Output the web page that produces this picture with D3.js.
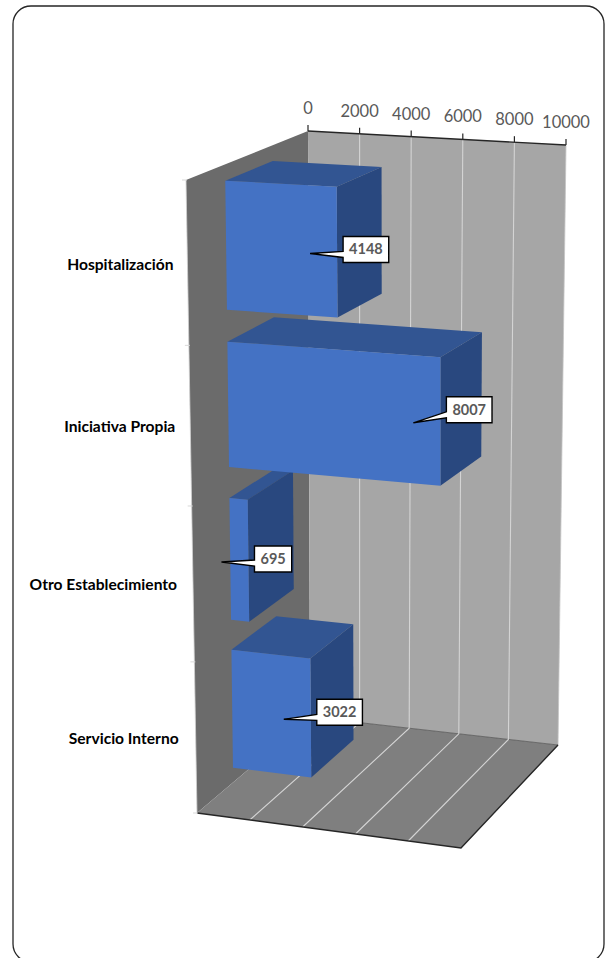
<!DOCTYPE html>
<html>
<head>
<meta charset="utf-8">
<script src="https://cdn.jsdelivr.net/npm/d3@7"></script>
<style>
  body { margin: 0; background: #fff; overflow: hidden; }
  text { font-family: Lato, "Open Sans", sans-serif; }
</style>
</head>
<body>
<div id="chart"></div>
<script>
const categories = ["Hospitalización", "Iniciativa Propia", "Otro Establecimiento", "Servicio Interno"];
const values = [4148, 8007, 695, 3022];
const valueTicks = [0, 2000, 4000, 6000, 8000, 10000];

const width = 616;
const height = 958;

// the eight corners of the chart box as they land on the page
const corners = {
    frontTopLeft: [186, 180], frontTopRight: [460, 194],
    frontBottomLeft: [197, 813], frontBottomRight: [461, 848],
    backTopLeft: [308, 131], backTopRight: [566, 145],
    backBottomLeft: [310, 717], backBottomRight: [558, 745]
};

const lerp = (a, b, t) => [a[0] + (b[0] - a[0]) * t, a[1] + (b[1] - a[1]) * t];

/**
 * project
 *
 * Purpose: Maps a point inside the unit box to page coordinates.
 *
 * @param {number} u - position along the value axis, 0 to 1
 * @param {number} v - position along the category axis, 0 (top) to 1 (bottom)
 * @param {number} w - depth, 0 (front) to 1 (back)
 */
function project(u, v, w) {
    // the top of the box is a bit closer to the camera, so it stretches
    const s = v + 0.06 * v * (1 - v);
    const front = lerp(
        lerp(corners.frontTopLeft, corners.frontTopRight, u),
        lerp(corners.frontBottomLeft, corners.frontBottomRight, u), s);
    const back = lerp(
        lerp(corners.backTopLeft, corners.backTopRight, u),
        lerp(corners.backBottomLeft, corners.backBottomRight, u), s);
    return lerp(front, back, w);
}

const valueScale = d3.scaleLinear().domain([0, 10000]).range([0, 1]);
const catScale = d3.scaleBand().domain(categories).range([0, 1])
    .paddingInner(0.2).paddingOuter(0.1);
const barDepth = [0.32, 0.71];

const svg = d3.select("#chart").append("svg")
    .attr("width", width)
    .attr("height", height)
    .style("display", "block");

const quad = d3.line().curve(d3.curveLinearClosed);

function face(g, points, fill) {
    g.append("path")
        .attr("d", quad(points))
        .attr("fill", fill);
}

// outer frame, it runs off the bottom of the picture
svg.append("rect")
    .attr("x", 13).attr("y", 6)
    .attr("width", 591).attr("height", 956)
    .attr("rx", 18)
    .attr("fill", "#fff")
    .attr("stroke", "#262626")
    .attr("stroke-width", 1.3);

// walls and floor
const walls = svg.append("g");
face(walls, [project(0, 0, 0), project(0, 0, 1), project(0, 1, 1), project(0, 1, 0)], "#6b6b6b");
face(walls, [project(0, 0, 1), project(1, 0, 1), project(1, 1, 1), project(0, 1, 1)], "#a6a6a6");
face(walls, [project(0, 1, 0), project(1, 1, 0), project(1, 1, 1), project(0, 1, 1)], "#7f7f7f");

walls.append("path")
    .attr("d", d3.line()([project(0, 0, 0), project(0, 1, 0)]))
    .attr("fill", "none").attr("stroke", "#d0d0d0").attr("stroke-width", 0.8);
walls.append("path")
    .attr("d", d3.line()([project(1, 0, 1), project(1, 1, 1)]))
    .attr("fill", "none").attr("stroke", "#c4c4c4").attr("stroke-width", 0.8);
walls.append("path")
    .attr("d", d3.line()([project(0, 1, 1), project(1, 1, 1)]))
    .attr("fill", "none").attr("stroke", "#5a5a5a").attr("stroke-width", 0.8);

// grid lines on back wall and floor
valueTicks.slice(1, -1).forEach(t => {
    const u = valueScale(t);
    walls.append("path")
        .attr("d", d3.line()([project(u, 0, 1), project(u, 1, 1), project(u, 1, 0)]))
        .attr("fill", "none").attr("stroke", "#d4d4d4").attr("stroke-width", 1.1);
});

// floor front and side edges
walls.append("path")
    .attr("d", d3.line()([project(0, 1, 0), project(1, 1, 0), project(1, 1, 1)]))
    .attr("fill", "none").attr("stroke", "#262626").attr("stroke-width", 1.4);

// category ticks on the front edge of the left wall, one per band boundary
d3.range(categories.length + 1).forEach(i => {
    const p = project(0, i / categories.length, 0);
    walls.append("line")
        .attr("x1", p[0] - 4).attr("x2", p[0] + 1)
        .attr("y1", p[1]).attr("y2", p[1])
        .attr("stroke", "#d9d9d9").attr("stroke-width", 1);
});

// value axis along the top of the back wall
const axisScale = d3.scaleLinear().domain([0, 10000])
    .range([project(0, 0, 1)[0], project(1, 0, 1)[0]]);

const xAxis = svg.append("g")
    .call(d3.axisTop(axisScale)
        .tickValues(valueTicks)
        .tickFormat(d3.format("d"))
        .tickSize(6)
        .tickPadding(11));

xAxis.selectAll(".tick")
    .attr("transform", d => {
        const p = project(valueScale(d), 0, 1);
        return "translate(" + p[0] + "," + p[1] + ")";
    });
xAxis.selectAll(".tick line").attr("stroke", "#262626").attr("stroke-width", 1.2);
xAxis.selectAll(".tick text")
    .attr("fill", "#595959")
    .style("font-size", "16.5px")
    .style("font-family", "Lato, sans-serif");
xAxis.select(".domain")
    .attr("d", d3.line()([project(0, 0, 1), project(1, 0, 1)]))
    .attr("stroke", "#262626")
    .attr("stroke-width", 1.4);

// category labels
const labelLift = [2, 1, 0, 1];
categories.forEach((c, i) => {
    const p = project(0, catScale(c) + catScale.bandwidth() / 2, 0);
    svg.append("text")
        .attr("x", p[0] - 14 - i)
        .attr("y", p[1] + labelLift[i] + 5)
        .attr("text-anchor", "end")
        .attr("font-size", 15.6)
        .attr("font-weight", 700)
        .attr("fill", "#000")
        .text(c);
});

// bars, last category first so the upper ones sit in front
const bars = svg.append("g");
d3.range(categories.length).reverse().forEach(i => {
    const u = valueScale(values[i]);
    const v0 = catScale(categories[i]);
    const v1 = v0 + catScale.bandwidth();
    const [w0, w1] = barDepth;
    const g = bars.append("g");
    face(g, [project(0, v0, w0), project(u, v0, w0), project(u, v0, w1), project(0, v0, w1)], "#325592");
    face(g, [project(u, v0, w0), project(u, v0, w1), project(u, v1, w1), project(u, v1, w0)], "#29487f");
    face(g, [project(0, v0, w0), project(u, v0, w0), project(u, v1, w0), project(0, v1, w0)], "#4472c4");
});

// value callouts, anchored on the middle of each bar's front right edge
const calloutShift = [-3, -12, -2, -6];
const calloutHeight = 26;
const labels = svg.append("g");
values.forEach((d, i) => {
    const u = valueScale(d);
    const v = catScale(categories[i]) + catScale.bandwidth() / 2;
    const anchor = project(u, v, barDepth[0]);
    const boxX = anchor[0] + 6;
    const boxY = anchor[1] + calloutShift[i] - calloutHeight / 2;
    const tipX = anchor[0] - 27;
    const tipY = anchor[1] + 1;
    const g = labels.append("g");
    const text = g.append("text")
        .attr("text-anchor", "middle")
        .attr("font-size", 14.5)
        .attr("font-weight", 700)
        .attr("fill", "#595959")
        .text(d);
    const boxW = text.node().getComputedTextLength() + 12;
    const baseY = Math.max(boxY + 5, Math.min(boxY + calloutHeight - 11, tipY - 2));
    g.insert("path", "text")
        .attr("d", d3.line()([
            [boxX, boxY], [boxX + boxW, boxY], [boxX + boxW, boxY + calloutHeight],
            [boxX, boxY + calloutHeight], [boxX, baseY + 6], [tipX, tipY], [boxX, baseY]
        ]) + "Z")
        .attr("fill", "#fff")
        .attr("stroke", "#000")
        .attr("stroke-width", 1.4);
    text.attr("x", boxX + boxW / 2).attr("y", boxY + calloutHeight / 2 + 5);
});
</script>
</body>
</html>
